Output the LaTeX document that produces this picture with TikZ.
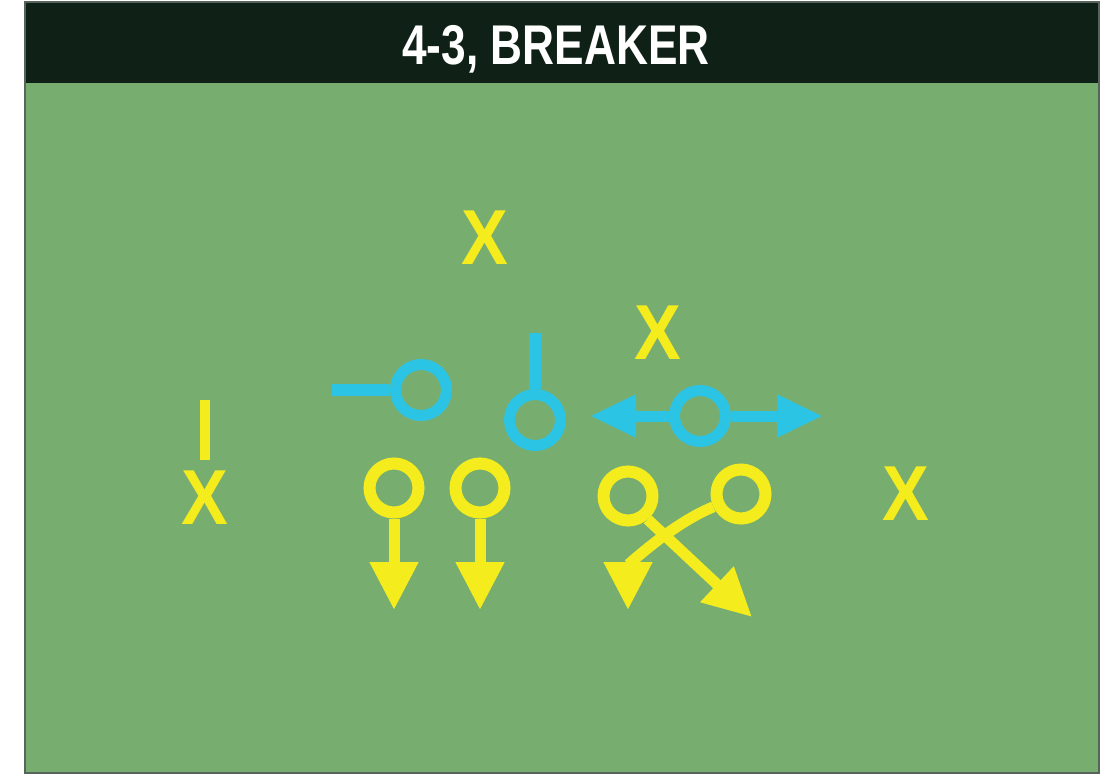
\documentclass[tikz,border=0pt]{standalone}
\usepackage{fontspec}
\usepackage{tikz}
\usetikzlibrary{positioning, arrows.meta}
\usepackage{xcolor}
\newfontfamily\condfont{Liberation Sans}[FakeStretch=0.79]
\newfontfamily\markfont{Liberation Sans}[FakeStretch=0.9]

\definecolor{turf}{HTML}{78AD70}
\definecolor{barblack}{HTML}{0F2116}
\definecolor{chalkyellow}{HTML}{F4EC1C}
\definecolor{chalkcyan}{HTML}{2CC4E4}

\begin{document}
\begin{tikzpicture}[
        x=1pt, y=-1pt,
        oyellow/.style={circle, draw=chalkyellow, line width=12pt, minimum size=49pt, inner sep=0pt},
        ocyan/.style={circle, draw=chalkcyan, line width=11pt, minimum size=51pt, inner sep=0pt},
        xmark/.style={inner sep=0pt, text=chalkyellow, font=\markfont\bfseries\fontsize{78}{78}\selectfont},
        yroute/.style={draw=chalkyellow, line width=11pt, -{Triangle[width=46pt, length=48pt]}},
        croute/.style={draw=chalkcyan, line width=11pt, -{Triangle[width=40pt, length=46pt]}},
        cline/.style={draw=chalkcyan, line width=12pt},
        yline/.style={draw=chalkyellow, line width=10pt}
    ]
        \useasboundingbox (0,0) rectangle (1103,778);
        \fill[white] (0,0) rectangle (1103,778);

        % Field and title bar
        \fill[turf] (25,83) rectangle (1099,773);
        \fill[barblack] (25,2) rectangle (1099,83);
        \draw[barblack!70, line width=1.5pt] (25,2) rectangle (1099,773);
        \node[anchor=base, text=white, font=\condfont\bfseries\fontsize{56}{56}\selectfont] (title) at (556,65) {4-3, BREAKER};

        % Defense
        \node[xmark] (xt) at (485,238) {X};
        \node[xmark] (xm) at (658,333) {X};
        \node[xmark] (xl) at (205,498) {X};
        \node[xmark] (xr) at (906,494) {X};

        % Backs
        \node[ocyan] (oc1) at (421,390) {};
        \node[ocyan] (oc2) at (535,420) {};
        \node[ocyan] (oc3) at (700,416) {};

        % Line
        \node[oyellow] (oy1) at (394,488) {};
        \node[oyellow] (oy2) at (480,488) {};
        \node[oyellow] (oy3) at (628,496) {};
        \node[oyellow] (oy4) at (741,494) {};

        % Route ends
        \coordinate (endA) at (332,390);
        \coordinate (endB) at (535,333);
        \coordinate (tipL) at (590,416);
        \coordinate (tipR) at (823,416);
        \coordinate (tip1) at (394,610);
        \coordinate (tip2) at (480,610);
        \coordinate (tip3) at (628,610);
        \coordinate (tip4) at (752,617);
        \coordinate (motA) at (205,400);
        \coordinate (motB) at (205,460);

        % Cyan moves
        \draw[cline] (oc1.west) -- (endA);
        \draw[cline] (oc2.north) -- (endB);
        \draw[croute] (oc3.west) -- (tipL);
        \draw[croute] (oc3.east) -- (tipR);

        % Yellow moves
        \draw[yline] (motA) -- (motB);
        \draw[yroute] (oy1.south) -- (tip1);
        \draw[yroute] (oy2.south) -- (tip2);
        \draw[yroute] (oy4.205) to[out=202, in=90, looseness=0.85] (tip3);
        \draw[yroute] (oy3.-50) -- (tip4);
    \end{tikzpicture}
\end{document}
